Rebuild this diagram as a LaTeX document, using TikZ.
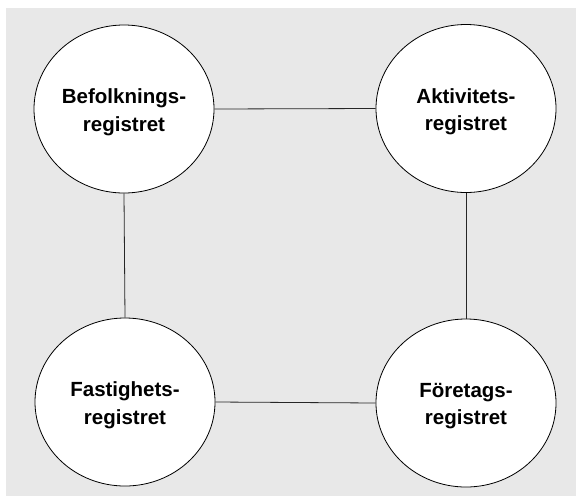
\documentclass[tikz,border=0pt]{standalone}
\usepackage{fontspec}
\setmainfont{Liberation Sans}
\usetikzlibrary{shapes.geometric}
\definecolor{panel}{RGB}{232,232,232}
\tikzset{
  regbox/.style={ellipse, draw=black, line width=0.8pt, fill=white,
    minimum width=180pt, minimum height=168pt, inner sep=0pt},
  regtext/.style={align=center, inner sep=0pt, yshift=-3pt,
    font=\fontsize{20.5}{27.5}\selectfont\bfseries},
  link/.style={draw=black!85, line width=0.8pt}
}
\begin{document}
\begin{tikzpicture}[x=1pt,y=-1pt]
  % page and grey panel
  \useasboundingbox (0,0) rectangle (576,496);
  \fill[white] (0,0) rectangle (576,496);
  \fill[panel] (6,8) rectangle (576,496);

  % the four registers
  \node[regbox] (bef) at (124,109) {};
  \node[regbox] (akt) at (466,108.5) {};
  \node[regbox] (fas) at (125,402) {};
  \node[regbox] (for) at (466,403) {};

  \node[regtext] (befT) at (bef.center) {Befolknings-\\registret};
  \node[regtext] (aktT) at (akt.center) {Aktivitets-\\registret};
  \node[regtext] (fasT) at (fas.center) {Fastighets-\\registret};
  \node[regtext] (forT) at (for.center) {Företags-\\registret};

  % links between registers
  \draw[link] (bef.east) -- (akt.west);
  \draw[link] (fas.east) -- (for.west);
  \draw[link] (bef.south) -- (fas.north);
  \draw[link] (akt.south) -- (for.north);
\end{tikzpicture}
\end{document}
